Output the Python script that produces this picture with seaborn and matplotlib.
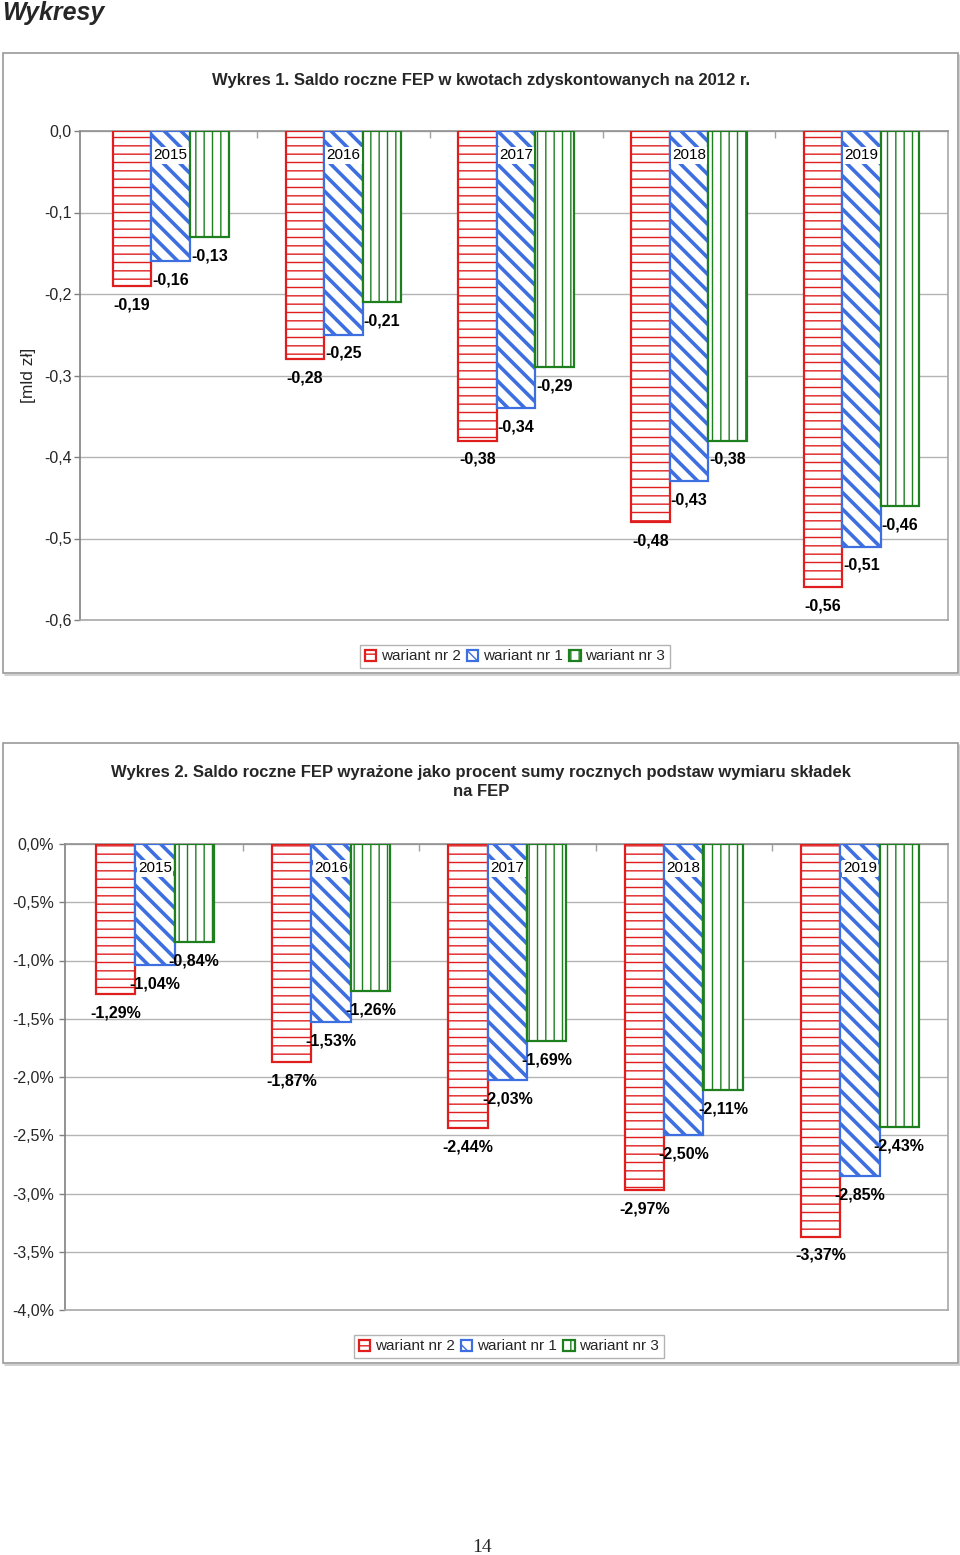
import numpy as np
import pandas as pd
import matplotlib
matplotlib.use("Agg")
import matplotlib.pyplot as plt
import seaborn as sns
from matplotlib.patches import Rectangle
from matplotlib.lines import Line2D

# ---------------- data ----------------
years = ["2015", "2016", "2017", "2018", "2019"]
variants = ["wariant nr 2", "wariant nr 1", "wariant nr 3"]

# Wykres 1 [mld zł]
w1_v2 = [-0.19, -0.28, -0.38, -0.48, -0.56]
w1_v1 = [-0.16, -0.25, -0.34, -0.43, -0.51]
w1_v3 = [-0.13, -0.21, -0.29, -0.38, -0.46]

# Wykres 2 [%]
w2_v2 = [-1.29, -1.87, -2.44, -2.97, -3.37]
w2_v1 = [-1.04, -1.53, -2.03, -2.50, -2.85]
w2_v3 = [-0.84, -1.26, -1.69, -2.11, -2.43]

ticks1 = [0.0, -0.1, -0.2, -0.3, -0.4, -0.5, -0.6]
ticks2 = [0.0, -0.5, -1.0, -1.5, -2.0, -2.5, -3.0, -3.5, -4.0]

title1 = "Wykres 1. Saldo roczne FEP w kwotach zdyskontowanych na 2012 r."
title2 = "Wykres 2. Saldo roczne FEP wyrażone jako procent sumy rocznych podstaw wymiaru składek\nna FEP"

colors = {"wariant nr 2": "#E01E1E", "wariant nr 1": "#3E6FE0", "wariant nr 3": "#1E7F1E"}
hatches = {"wariant nr 2": "--", "wariant nr 1": "\\\\", "wariant nr 3": "||"}
hatch_lw = {"wariant nr 2": 1.0, "wariant nr 1": 2.6, "wariant nr 3": 1.0}

sns.set_theme(style="white")
plt.rcParams["font.family"] = ["Liberation Sans", "DejaVu Sans"]

W, H = 960, 1555
fig = plt.figure(figsize=(W / 100, H / 100), dpi=100)
fig.patch.set_facecolor("white")


def fx(px):
    return px / W


def fy(py):
    return 1 - py / H


def frame(x0, y0, x1, y1):
    fig.add_artist(Rectangle((fx(x0), fy(y1)), fx(x1 - x0), (y1 - y0) / H,
                             transform=fig.transFigure, fill=False,
                             edgecolor="#9A9A9A", linewidth=1.2))
    # shadow on the right and bottom
    fig.add_artist(Line2D([fx(x0 + 2), fx(x1 + 1.5), fx(x1 + 1.5)],
                          [fy(y1 + 1.5), fy(y1 + 1.5), fy(y0 + 2)],
                          transform=fig.transFigure, color="#C8C8C8", linewidth=1.2))


def make_chart(ax, v2, v1, v3, yticks, fmt, ylim, xlim, pad):
    df = pd.DataFrame({
        "year": years * 3,
        "variant": [variants[0]] * 5 + [variants[1]] * 5 + [variants[2]] * 5,
        "value": list(v2) + list(v1) + list(v3),
    })
    sns.barplot(data=df, x="year", y="value", hue="variant", hue_order=variants,
                order=years, width=0.67, errorbar=None, legend=False, ax=ax,
                palette=colors, zorder=3)
    handles = []
    for cont, var in zip(ax.containers, variants):
        for bar in cont:
            bar.set_facecolor("white")
            bar.set_edgecolor(colors[var])
            bar.set_hatch(hatches[var])
            bar.set_linewidth(1.6)
            if hasattr(bar, "set_hatch_linewidth"):
                bar.set_hatch_linewidth(hatch_lw[var])
        handles.append(cont[0])
        for bar in cont:
            val = bar.get_height()
            xc = bar.get_x() + bar.get_width() / 2
            ax.annotate(fmt(val), (xc, val), xytext=(0, -13.5), textcoords="offset points",
                        ha="center", va="center", fontsize=11.5, fontweight="bold",
                        color="black", zorder=5)
    # year labels on the middle bar
    mid = ax.containers[1]
    for bar, yr in zip(mid, years):
        xc = bar.get_x() + bar.get_width() / 2
        ax.annotate(yr, (xc, 0), xytext=(0, -17.5), textcoords="offset points",
                    ha="center", va="center", fontsize=11, color="black",
                    bbox=dict(boxstyle="square,pad=0.08", fc="white", ec="none"),
                    zorder=6)
    ax.set_ylim(*ylim)
    ax.set_xlim(*xlim)
    ax.set_yticks(yticks)
    ax.set_yticklabels([fmt(t, tick=True) for t in yticks], fontsize=11.5)
    ax.yaxis.grid(True, color="#B4B4B4", linewidth=1.0, zorder=0)
    ax.set_axisbelow(True)
    ax.tick_params(axis="y", which="major", left=True, length=4, width=1,
                   color="#808080", pad=pad)
    ax.xaxis.tick_top()
    ax.set_xticks([0.5, 1.5, 2.5, 3.5])
    ax.set_xticklabels([])
    ax.tick_params(axis="x", which="major", top=True, bottom=False, direction="in",
                   length=5, width=1, color="#A0A0A0")
    ax.set_xlabel("")
    ax.set_ylabel("")
    for name, sp in ax.spines.items():
        sp.set_visible(True)
        sp.set_color("#A8A8A8")
        sp.set_linewidth(1.2)
    ax.spines["left"].set_color("#808080")
    ax.spines["top"].set_color("#909090")
    return handles


def fmt1(v, tick=False):
    return f"{v:.1f}".replace(".", ",") if tick else f"{v:.2f}".replace(".", ",")


def fmt2(v, tick=False):
    return (f"{v:.1f}%" if tick else f"{v:.2f}%").replace(".", ",")


# page heading
fig.text(fx(2), fy(13), "Wykresy", fontsize=18, fontweight="bold", fontstyle="italic",
         ha="left", va="center")

# ---------- chart 1 ----------
frame(3, 53, 958, 673)
fig.text(fx(481), fy(80), title1, fontsize=12, fontweight="bold", ha="center", va="center")
ax1 = fig.add_axes([fx(80), fy(620), fx(948 - 80), (620 - 131) / H])
h1 = make_chart(ax1, w1_v2, w1_v1, w1_v3, ticks1, fmt1, (-0.6, 0.0), (-0.525, 4.5), 2)
fig.text(fx(28), fy(375), "[mld zł]", fontsize=12.5, rotation=90, ha="center", va="center")
leg1 = fig.legend(h1, variants, loc="center", bbox_to_anchor=(fx(515), fy(656.5)),
                  ncol=3, fontsize=11, frameon=True, fancybox=False, shadow=False,
                  handlelength=0.75, handleheight=0.75, handletextpad=0.3,
                  columnspacing=0.4, borderpad=0.3, borderaxespad=0)
leg1.get_frame().set_edgecolor("#A0A0A0")
leg1.get_frame().set_linewidth(1.0)

# ---------- chart 2 ----------
frame(3, 743, 958, 1363)
fig.text(fx(481), fy(782), title2, fontsize=12, fontweight="bold", ha="center", va="center",
         linespacing=1.4)
ax2 = fig.add_axes([fx(65), fy(1310), fx(948 - 65), (1310 - 844) / H])
h2 = make_chart(ax2, w2_v2, w2_v1, w2_v3, ticks2, fmt2, (-4.0, 0.0), (-0.51, 4.5), 4)
leg2 = fig.legend(h2, variants, loc="center", bbox_to_anchor=(fx(509), fy(1346.5)),
                  ncol=3, fontsize=11, frameon=True, fancybox=False, shadow=False,
                  handlelength=0.75, handleheight=0.75, handletextpad=0.3,
                  columnspacing=0.4, borderpad=0.3, borderaxespad=0)
leg2.get_frame().set_edgecolor("#A0A0A0")
leg2.get_frame().set_linewidth(1.0)

# page number
fig.text(fx(482), fy(1548), "14", fontsize=14, family=["Liberation Serif", "DejaVu Serif"],
         ha="center", va="center")

fig.savefig("out.png", dpi=100, facecolor="white")
